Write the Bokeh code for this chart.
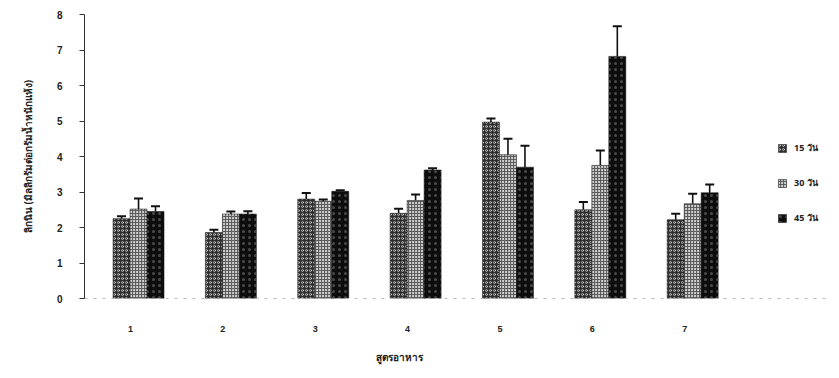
from bokeh.plotting import figure
from bokeh.models import ColumnDataSource, Whisker, TeeHead, FixedTicker, Legend, LegendItem, Range1d, Title
from bokeh.embed import file_html
from bokeh.resources import INLINE

formulas = [1, 2, 3, 4, 5, 6, 7]
series = ["15 วัน", "30 วัน", "45 วัน"]
d15 = [2.25, 1.86, 2.80, 2.40, 4.97, 2.50, 2.22]
d30 = [2.52, 2.38, 2.74, 2.76, 4.05, 3.75, 2.67]
d45 = [2.45, 2.38, 3.02, 3.62, 3.70, 6.82, 2.98]
e15 = [0.07, 0.08, 0.17, 0.13, 0.10, 0.22, 0.17]
e30 = [0.30, 0.07, 0.05, 0.17, 0.45, 0.42, 0.28]
e45 = [0.15, 0.08, 0.03, 0.05, 0.60, 0.85, 0.23]
y_title = "ลิกนิน (มิลลิกรัมต่อกรัมน้ำหนักแห้ง)"
x_title = "สูตรอาหาร"

BW = 0.184
SHIFT = 0.087

p = figure(width=831, height=377, output_backend="svg", toolbar_location=None,
           x_range=Range1d(0.502, 8.59), y_range=Range1d(0, 8),
           min_border_left=84, min_border_top=14, min_border_bottom=79, min_border_right=0)
p.outline_line_color = None
p.grid.grid_line_color = None

styles = [
    dict(fill_color="#2e2e2e", hatch_pattern="o", hatch_color="white", hatch_scale=4, hatch_weight=1, hatch_alpha=0.55),
    dict(fill_color="#5a5a5a", hatch_pattern="o", hatch_color="white", hatch_scale=3, hatch_weight=1, hatch_alpha=0.75),
    dict(fill_color="#0d0d0d", hatch_pattern=".", hatch_color="#888888", hatch_scale=6, hatch_weight=1, hatch_alpha=0.5),
]
vals = [d15, d30, d45]
errs = [e15, e30, e45]
items = []
for k in range(3):
    xs = [f + SHIFT + (k - 1) * BW for f in formulas]
    src = ColumnDataSource(dict(x=xs, top=vals[k],
                                upper=[v + e for v, e in zip(vals[k], errs[k])]))
    r = p.vbar(x="x", top="top", width=BW, source=src, line_color="#111111", line_width=0.5, **styles[k])
    p.add_layout(Whisker(source=src, base="x", lower="top", upper="upper",
                         line_color="#111111", line_width=1.6,
                         upper_head=TeeHead(size=9, line_color="#111111", line_width=2),
                         lower_head=None))
    items.append(LegendItem(label=series[k], renderers=[r]))

legend = Legend(items=items, location=(693, 73), padding=0, margin=0, border_line_color=None,
                background_fill_alpha=0, glyph_width=10, glyph_height=10, label_height=10,
                spacing=21, label_standoff=7, label_text_font_size="9px",
                label_text_font="Noto Sans", label_text_font_style="bold", label_text_color="#222222")
p.add_layout(legend, "center")

p.xaxis.ticker = FixedTicker(ticks=formulas)
p.xaxis.major_tick_out = 0
p.xaxis.major_tick_in = 0
p.xaxis.minor_tick_out = 0
p.xaxis.minor_tick_in = 0
p.xaxis.major_label_standoff = 27
p.xaxis.axis_line_color = "#bbbbbb"
p.xaxis.axis_line_dash = "3 6"
p.xaxis.major_label_text_font = "Liberation Sans"
p.xaxis.major_label_text_font_style = "bold"
p.xaxis.major_label_text_font_size = "9px"
p.xaxis.major_label_text_color = "#222222"

p.yaxis.ticker = FixedTicker(ticks=[0, 1, 2, 3, 4, 5, 6, 7, 8])
p.yaxis.major_tick_out = 5
p.yaxis.major_tick_in = 0
p.yaxis.minor_tick_out = 0
p.yaxis.minor_tick_in = 0
p.yaxis.major_label_standoff = 17
p.yaxis.axis_line_color = "#333333"
p.yaxis.major_tick_line_color = "#333333"
p.yaxis.major_label_text_font = "Liberation Sans"
p.yaxis.major_label_text_font_style = "bold"
p.yaxis.major_label_text_font_size = "10px"
p.yaxis.major_label_text_color = "#222222"
p.yaxis.axis_label = y_title
p.yaxis.axis_label_standoff = 19
p.yaxis.axis_label_text_font = "Noto Sans"
p.yaxis.axis_label_text_font_style = "bold"
p.yaxis.axis_label_text_font_size = "10px"
p.yaxis.axis_label_text_color = "#222222"

p.add_layout(Title(text=x_title, align="left", offset=291, standoff=27,
                   text_font="Noto Sans", text_font_style="bold", text_font_size="10px",
                   text_color="#222222"), "below")

open("out.html", "w").write(file_html(p, INLINE))
